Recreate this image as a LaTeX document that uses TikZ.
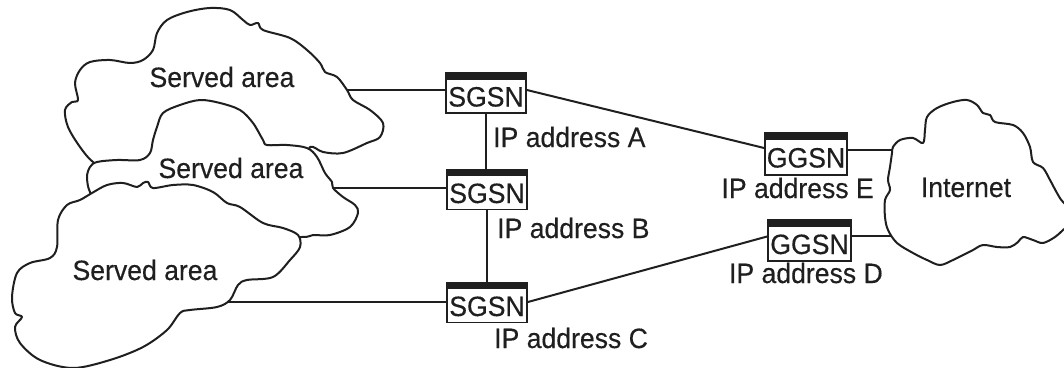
\documentclass[tikz,border=0pt]{standalone}
\usepackage{fontspec}
\setmainfont[FakeStretch=0.95,FakeBold=0.3]{Liberation Sans}
\usetikzlibrary{calc}
\pgfdeclarelayer{bg}
\pgfsetlayers{bg,main}
\definecolor{ink}{gray}{0.12}
\begin{document}
\begin{tikzpicture}[x=1pt,y=-1pt,
  cloud/.style={draw=ink, line width=2pt, fill=white, line join=round},
  link/.style={draw=ink, line width=2pt},
  lbl/.style={text=ink, font=\fontsize{28}{30}\selectfont, inner sep=0pt},
  gsn/.style={draw=ink, line width=1.8pt, fill=white, minimum width=80pt,
    minimum height=40pt, inner sep=0pt, text=ink,
    font=\fontsize{28}{30}\selectfont, text height=27pt, text depth=0pt,
    path picture={\fill[ink] (path picture bounding box.north west) rectangle
      ([yshift=-6.5pt]path picture bounding box.north east);}},
]
\useasboundingbox (0,0) rectangle (1064,367);
\begin{scope}
\clip (0,0) rectangle (1064,367);
% top served area
\path[cloud] plot[smooth cycle, tension=0.55] coordinates {
 (93,162) (80,147) (68,127) (65,110) (72,102) (78,100) (75,83) (80,70)
 (90,62) (110,60) (130,63) (143,60) (153,50) (157,33) (167,20) (187,12)
 (210,8) (230,10) (243,20) (250,25) (258,23) (263,30) (290,38) (307,50)
 (320,63) (325,72) (337,77) (347,90) (353,100) (370,110) (383,123)
 (380,137) (367,143) (343,153) (323,152) (310,147) (300,165) (200,170)
 (112,172)};
% middle served area
\path[cloud] plot[smooth cycle, tension=0.55] coordinates {
 (90,192) (87,177) (90,167) (97,162) (117,160) (140,160) (150,153)
 (153,140) (157,127) (163,113) (180,105) (200,100) (220,103) (240,110)
 (253,123) (263,140) (267,145) (287,145) (307,148) (317,157) (325,173)
 (332,182) (333,188) (343,197) (355,205) (358,213) (350,227) (330,235)
 (313,235) (302,237) (250,235) (150,215) (102,205)};
% bottom served area
\path[cloud] plot[smooth cycle, tension=0.55] coordinates {
 (15,313) (12,297) (17,273) (30,263) (50,258) (57,247) (58,220) (67,205)
 (80,200) (92,193) (107,185) (123,183) (137,187) (143,183) (148,182)
 (153,188) (173,185) (193,185) (213,192) (227,203) (240,207) (263,223)
 (283,228) (298,235) (300,247) (290,260) (273,277) (247,280) (238,285)
 (230,300) (217,307) (190,310) (180,313) (167,330) (143,347) (110,360)
 (73,368) (40,360) (20,343) (15,327) (22,317)};
% internet
\path[cloud] plot[smooth cycle, tension=0.55] coordinates {
 (893,147) (900,140) (913,138) (923,143) (925,130) (927,117) (937,108)
 (953,102) (967,100) (977,105) (983,113) (990,115) (995,122) (1013,125)
 (1023,133) (1030,147) (1033,162) (1043,168) (1050,180) (1057,193)
 (1063,202) (1078,216) (1063,230) (1055,237) (1043,243) (1033,240)
 (1023,237) (1018,242) (1010,247) (997,247) (983,245) (973,250) (963,255)
 (953,260) (940,265) (927,260) (913,253) (897,243) (888,230) (885,217)
 (885,200) (890,190) (888,180) (890,167) (892,153)};
\end{scope}

\coordinate (cTop) at (340,90);
\coordinate (cMid) at (325,188);
\coordinate (cBot) at (220,302);
\coordinate (cInE) at (900,150);
\coordinate (cInD) at (900,236);

\node[gsn] (sgA) at (486,93) {SGSN};
\node[gsn] (sgB) at (487,189.5) {SGSN};
\node[gsn] (sgC) at (487,302.5) {SGSN};
\node[gsn, minimum width=82pt, minimum height=42pt] (ggE) at (806,154) {GGSN};
\node[gsn, minimum width=83pt, minimum height=41pt] (ggD) at (809.5,240.5) {GGSN};

\begin{pgfonlayer}{bg}
\draw[link] (cTop) -- (cTop -| sgA.west);
\draw[link] (cMid) -- (cMid -| sgB.west);
\draw[link] (cBot) -- (cBot -| sgC.west);
\draw[link] (sgA.center) -- (sgA.center |- sgB.center);
\draw[link] (sgB.center) -- (sgB.center |- sgC.center);
\draw[link] ([yshift=3pt]sgA.east) -- ([yshift=6pt]ggE.west);
\draw[link] ([yshift=0.5pt]sgC.east) -- ([yshift=4pt]ggD.west);
\draw[link] (ggE.east |- cInE) -- (cInE);
\draw[link] (ggD.east |- cInD) -- (cInD);
\end{pgfonlayer}

\node[lbl, anchor=base] (sa1) at (222,87) {Served area};
\node[lbl, anchor=base] (sa2) at (231,178) {Served area};
\node[lbl, anchor=base] (sa3) at (145,280) {Served area};
\node[lbl, anchor=base] (inet) at (966,197) {Internet};
\node[lbl, anchor=base west] (ipA) at (493,147) {IP address A};
\node[lbl, anchor=base west] (ipB) at (497,238) {IP address B};
\node[lbl, anchor=base west] (ipC) at (494,348) {IP address C};
\node[lbl, anchor=base east] (ipE) at (874,198) {IP address E};
\node[lbl, anchor=base east] (ipD) at (883,283) {IP address D};
\end{tikzpicture}
\end{document}
